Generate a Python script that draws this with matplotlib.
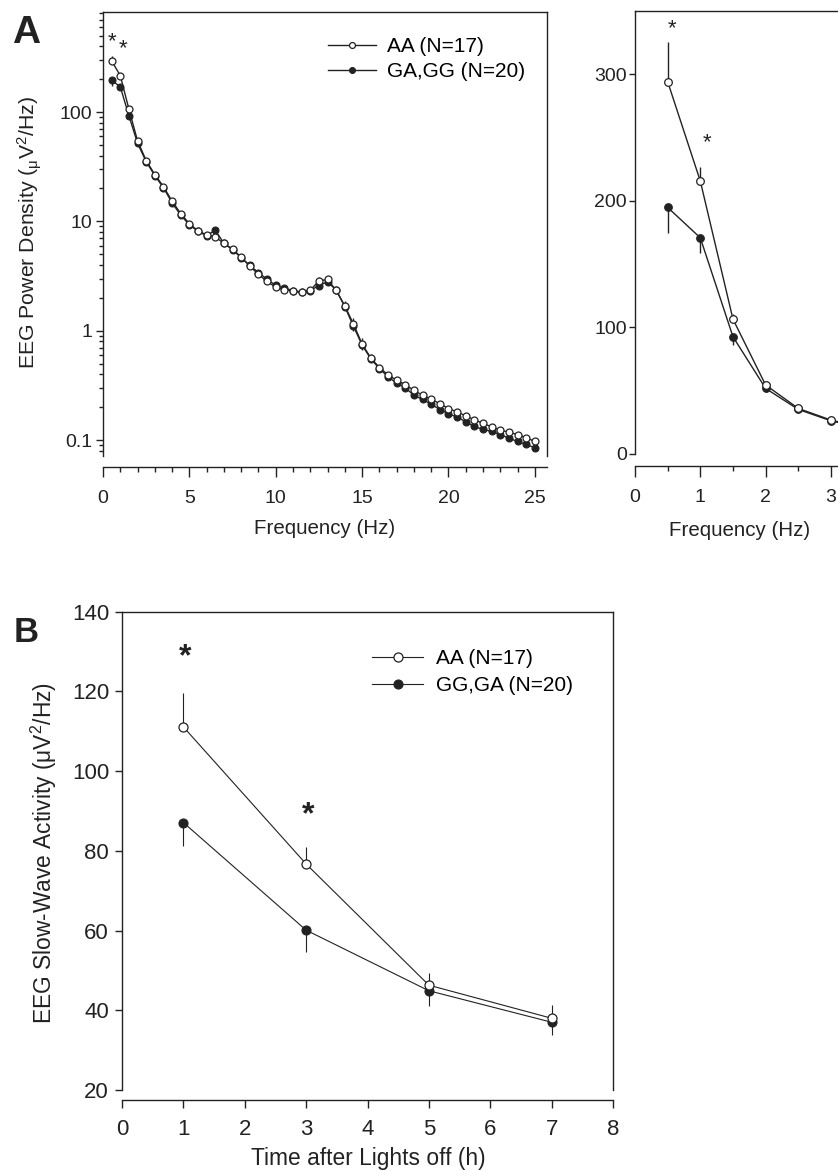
import matplotlib
matplotlib.use("Agg")
import matplotlib.pyplot as plt
from matplotlib.ticker import LogLocator, NullFormatter, MultipleLocator

plt.rcParams['font.family'] = ['Liberation Sans', 'DejaVu Sans']
plt.rcParams['mathtext.fontset'] = 'custom'
plt.rcParams['mathtext.rm'] = 'Liberation Sans'
plt.rcParams['mathtext.it'] = 'Liberation Sans:italic'
plt.rcParams['mathtext.bf'] = 'Liberation Sans:bold'

INK = '#222222'

# ---- panel A: EEG power spectrum (0.5 Hz bins)
freq = [0.5, 1.0, 1.5, 2.0, 2.5, 3.0, 3.5, 4.0, 4.5, 5.0,
        5.5, 6.0, 6.5, 7.0, 7.5, 8.0, 8.5, 9.0, 9.5, 10.0,
        10.5, 11.0, 11.5, 12.0, 12.5, 13.0, 13.5, 14.0, 14.5, 15.0,
        15.5, 16.0, 16.5, 17.0, 17.5, 18.0, 18.5, 19.0, 19.5, 20.0,
        20.5, 21.0, 21.5, 22.0, 22.5, 23.0, 23.5, 24.0, 24.5, 25.0]
aa_pow = [294.0, 215.5, 106.5, 54.5, 36.0, 26.8, 20.8, 15.3, 11.8, 9.5,
          8.2, 7.5, 7.2, 6.3, 5.6, 4.7, 3.9, 3.27, 2.82, 2.5,
          2.38, 2.31, 2.24, 2.34, 2.86, 2.94, 2.34, 1.69, 1.15, 0.755,
          0.565, 0.46, 0.395, 0.352, 0.321, 0.285, 0.257, 0.236, 0.215, 0.194,
          0.181, 0.166, 0.153, 0.142, 0.132, 0.123, 0.118, 0.112, 0.105, 0.097]
gg_pow = [194.7, 170.7, 92.6, 51.8, 35.2, 26.2, 20.3, 14.8, 11.4, 9.3,
          8.1, 7.4, 8.3, 6.3, 5.5, 4.65, 3.95, 3.4, 2.95, 2.6,
          2.45, 2.33, 2.25, 2.33, 2.59, 2.8, 2.36, 1.66, 1.1, 0.74,
          0.555, 0.45, 0.38, 0.33, 0.30, 0.257, 0.235, 0.213, 0.19, 0.174,
          0.162, 0.147, 0.133, 0.125, 0.12, 0.112, 0.104, 0.097, 0.091, 0.085]
aa_sem = [31.0, 11.0, 4.0, 2.5, 1.6, 1.2, 0.9, 0.7, 0.5, 0.4,
          0.35, 0.3, 0.3, 0.25, 0.22, 0.2, 0.17, 0.14, 0.12, 0.1,
          0.1, 0.1, 0.1, 0.12, 0.25, 0.22, 0.15, 0.18, 0.15, 0.1,
          0.05, 0.03, 0.025, 0.02, 0.02, 0.015, 0.012, 0.01, 0.01, 0.008,
          0.008, 0.007, 0.006, 0.006, 0.005, 0.005, 0.005, 0.004, 0.004, 0.004]
gg_sem = [20.5, 12.0, 6.6, 3.0, 1.8, 1.3, 0.9, 0.7, 0.5, 0.4,
          0.35, 0.3, 0.3, 0.25, 0.2, 0.18, 0.15, 0.13, 0.11, 0.1,
          0.1, 0.1, 0.1, 0.1, 0.15, 0.15, 0.12, 0.12, 0.1, 0.08,
          0.04, 0.03, 0.02, 0.02, 0.02, 0.015, 0.012, 0.01, 0.01, 0.008,
          0.008, 0.007, 0.006, 0.006, 0.005, 0.005, 0.005, 0.004, 0.004, 0.004]
labels_a = ['AA (N=17)', 'GA,GG (N=20)']

# ---- panel B: slow-wave activity per 2 h
hours = [1, 3, 5, 7]
aa_swa = [111.1, 76.7, 46.3, 38.0]
aa_swa_sem = [8.4, 4.3, 3.1, 3.3]
gg_swa = [87.1, 60.1, 44.9, 37.0]
gg_swa_sem = [5.9, 5.4, 3.7, 3.2]
labels_b = ['AA (N=17)', 'GG,GA (N=20)']

W, H = 838, 1171
fig = plt.figure(figsize=(W / 100, H / 100), dpi=100)


def box(l, t, r, b):
    return [l / W, 1 - b / H, (r - l) / W, (b - t) / H]


def fx(x):
    return x / W


def fy(y):
    return 1 - y / H


def style(ax, offset, fs):
    for s in ax.spines.values():
        s.set_linewidth(1.0)
        s.set_color(INK)
    ax.spines['bottom'].set_position(('outward', offset))
    ax.tick_params(which='both', direction='out', colors=INK, width=1.0,
                   labelsize=fs, top=False, right=False)


def draw_pair(ax, x, ya, sa, yg, sg, ms, lw):
    za = [0] * len(x)
    ax.errorbar(x, ya, yerr=[za, sa], fmt='none', ecolor=INK, elinewidth=lw, capsize=0, zorder=2)
    ax.errorbar(x, yg, yerr=[sg, za], fmt='none', ecolor=INK, elinewidth=lw, capsize=0, zorder=2)
    g, = ax.plot(x, yg, '-o', color=INK, mfc=INK, mec=INK, ms=ms, lw=lw, mew=0.8, zorder=3)
    a, = ax.plot(x, ya, '-o', color=INK, mfc='white', mec=INK, ms=ms, lw=lw, mew=0.9, zorder=4)
    return a, g


# ---- A, log spectrum
axA = fig.add_axes(box(103, 11.7, 546.7, 456))
hA = draw_pair(axA, freq, aa_pow, aa_sem, gg_pow, gg_sem, 5.0, 1.0)
axA.set_yscale('log')
axA.set_ylim(0.0714, 828)
axA.set_xlim(0, 25.69)
axA.set_yticks([0.1, 1, 10, 100])
axA.set_yticklabels(['0.1', '1', '10', '100'])
axA.yaxis.set_minor_locator(LogLocator(base=10, subs=range(2, 10), numticks=20))
axA.yaxis.set_minor_formatter(NullFormatter())
axA.xaxis.set_major_locator(MultipleLocator(5))
axA.xaxis.set_minor_locator(MultipleLocator(1))
style(axA, 8.1, 14)
axA.tick_params(axis='y', which='major', length=5, pad=3)
axA.tick_params(axis='y', which='minor', length=3)
axA.tick_params(axis='x', which='major', length=7.2, pad=9.5)
axA.tick_params(axis='x', which='minor', length=3.8)
axA.text(0.52, 440, '*', ha='center', va='center', fontsize=16, color=INK)
axA.text(1.16, 378, '*', ha='center', va='center', fontsize=16, color=INK)
axA.legend(hA, labels_a, loc='upper left', bbox_to_anchor=(fx(328), fy(37)),
           bbox_transform=fig.transFigure, frameon=False, borderpad=0, borderaxespad=0,
           handlelength=2.3, handletextpad=0.55, labelspacing=0.3, fontsize=15,
           numpoints=1, markerscale=0.85)
fig.text(fx(29.5), fy(233), 'EEG Power Density ($_{\\mathregular{μ}}$V$^2$/Hz)',
         rotation=90, ha='center', va='center', fontsize=15.3, color=INK)
fig.text(fx(325), fy(529), 'Frequency (Hz)', ha='center', va='center', fontsize=14.8, color=INK)

# ---- A inset, linear low-frequency range (runs off the page edge)
axR = fig.add_axes(box(635, 10.7, 635 + 5 * 65.3, 454))
draw_pair(axR, freq, aa_pow, aa_sem, gg_pow, gg_sem, 5.5, 1.0)
axR.set_xlim(0, 5)
axR.set_ylim(0, 350)
axR.set_yticks([0, 100, 200, 300])
axR.xaxis.set_major_locator(MultipleLocator(1))
axR.xaxis.set_minor_locator(MultipleLocator(0.5))
style(axR, 8.4, 14)
axR.tick_params(axis='y', which='major', length=4.2, pad=1.5)
axR.tick_params(axis='x', which='major', length=8, pad=9)
axR.tick_params(axis='x', which='minor', length=3.6)
axR.text(0.56, 336, '*', ha='center', va='center', fontsize=16, color=INK)
axR.text(1.10, 246, '*', ha='center', va='center', fontsize=16, color=INK)
fig.text(fx(740), fy(530), 'Frequency (Hz)', ha='center', va='center', fontsize=14.8, color=INK)

fig.text(fx(12), fy(43), 'A', ha='left', va='baseline', fontsize=28, weight='bold', color=INK)

# ---- B, slow-wave activity time course
axB = fig.add_axes(box(122, 611.7, 613, 1090))
hB = draw_pair(axB, hours, aa_swa, aa_swa_sem, gg_swa, gg_swa_sem, 6.5, 0.8)
axB.set_xlim(0, 8)
axB.set_ylim(20, 140)
axB.yaxis.set_major_locator(MultipleLocator(20))
axB.xaxis.set_major_locator(MultipleLocator(1))
style(axB, 7.2, 16)
axB.tick_params(axis='y', length=4.8, pad=4.5)
axB.tick_params(axis='x', length=6, pad=7.5)
axB.text(1.03, 128.5, '*', ha='center', va='center', fontsize=23, weight='bold', color=INK)
axB.text(3.03, 89, '*', ha='center', va='center', fontsize=23, weight='bold', color=INK)
axB.legend(hB, labels_b, loc='upper left', bbox_to_anchor=(fx(372), fy(649)),
           bbox_transform=fig.transFigure, frameon=False, borderpad=0, borderaxespad=0,
           handlelength=2.45, handletextpad=0.62, labelspacing=0.4, fontsize=15,
           numpoints=1)
fig.text(fx(44), fy(853), 'EEG Slow-Wave Activity (μV$^{2}$/Hz)',
         rotation=90, ha='center', va='center', fontsize=16.4, color=INK)
fig.text(fx(368), fy(1158), 'Time after Lights off (h)', ha='center', va='center',
         fontsize=16.4, color=INK)
fig.text(fx(14), fy(642), 'B', ha='left', va='baseline', fontsize=25, weight='bold', color=INK)

fig.savefig('out.png', dpi=100)
